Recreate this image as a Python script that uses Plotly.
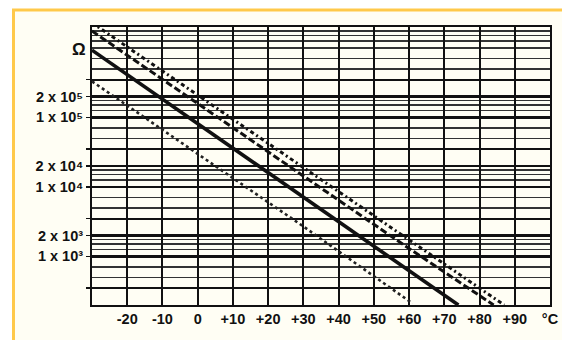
import plotly.graph_objects as go

# ---- data ----
temp_bottom = [-30, 0, 30, 61]
res_bottom = [3.3e5, 3.0e4, 2.7e3, 210]

temp_middle = [-30, 0, 30, 60, 74]
res_middle = [9.3e5, 8.1e4, 7.1e3, 620, 200]

temp_top_outer = [-30, 0, 30, 60, 87]
res_top_outer = [2.3e6, 2.1e5, 1.9e4, 1.76e3, 200]

temp_top_inner = [-30, 0, 30, 60, 84]
res_top_inner = [1.75e6, 1.6e5, 1.45e4, 1.3e3, 200]

x_tick_vals = [-20, -10, 0, 10, 20, 30, 40, 50, 60, 70, 80, 90, 100]
x_tick_text = ["-20", "-10", "0", "+10", "+20", "+30", "+40", "+50", "+60",
               "+70", "+80", "+90", "°C"]

y_label_vals = [1e3, 2e3, 1e4, 2e4, 1e5, 2e5]
y_label_text = ["1 x 10³", "2 x 10³", "1 x 10⁴", "2 x 10⁴", "1 x 10⁵", "2 x 10⁵"]
y_thick_vals = [3.5e2, 3.5e3, 3.5e4, 3.5e5]
y_minor_mult = [1.25, 1.5, 1.75, 5, 7]
y_decades = [1e2, 1e3, 1e4, 1e5, 1e6]

minor_vals = []
for d in y_decades:
    for m in y_minor_mult:
        v = m * d
        if 200 < v < 2e6:
            minor_vals.append(v)
minor_vals.append(1e6)

major_vals = y_label_vals + y_thick_vals
major_text = y_label_text + [""] * len(y_thick_vals)

fig = go.Figure()
fig.add_trace(go.Scatter(x=temp_bottom, y=res_bottom, mode="lines",
                         line=dict(color="#222", width=2.6, dash="3px,3px")))
fig.add_trace(go.Scatter(x=temp_middle, y=res_middle, mode="lines",
                         line=dict(color="#111", width=3.6)))
fig.add_trace(go.Scatter(x=temp_top_inner, y=res_top_inner, mode="lines",
                         line=dict(color="#111", width=3, dash="7px,3px")))
fig.add_trace(go.Scatter(x=temp_top_outer, y=res_top_outer, mode="lines",
                         line=dict(color="#111", width=3, dash="4px,3px,2px,3px")))

W, H = 562, 340
L, R, T, B = 92, 12, 27, 35
pw, ph = W - L - R, H - T - B

def px(xp):
    return (xp - L) / pw

def py(yp):
    return (H - B - yp) / ph

label_font = dict(family="Liberation Sans", size=14.5,
                  color="#111", weight="bold")

fig.update_layout(
    width=W, height=H,
    margin=dict(l=L, r=R, t=T, b=B, autoexpand=False),
    paper_bgcolor="white",
    plot_bgcolor="white",
    showlegend=False,
    hovermode=False,
    xaxis=dict(
        range=[-30, 100], automargin=False,
        tickvals=x_tick_vals, ticktext=x_tick_text,
        showgrid=True, gridcolor="#111", gridwidth=2,
        showline=True, linecolor="#111", linewidth=2, mirror=True,
        ticks="", tickfont=label_font, zeroline=False,
    ),
    yaxis=dict(
        type="log", automargin=False,
        range=[2.30103, 6.30103],
        tickvals=major_vals, ticktext=major_text,
        showgrid=True, gridcolor="#111", gridwidth=2.2,
        minor=dict(tickvals=minor_vals, showgrid=True, gridcolor="#333",
                   gridwidth=1.4, ticks=""),
        showline=True, linecolor="#111", linewidth=2, mirror=True,
        ticks="outside", ticklen=4, tickcolor="#111", tickwidth=1.5,
        tickfont=label_font, zeroline=False,
    ),
    shapes=[
        dict(type="rect", xref="paper", yref="paper",
             x0=px(14), x1=px(W), y0=py(H), y1=py(11),
             fillcolor="#FFFEF4", line=dict(width=0), layer="below"),
        dict(type="line", xref="paper", yref="paper",
             x0=px(12), x1=px(W), y0=py(10), y1=py(10),
             line=dict(color="#FFC94A", width=3)),
        dict(type="line", xref="paper", yref="paper",
             x0=px(13.5), x1=px(13.5), y0=py(9), y1=py(H),
             line=dict(color="#FFC94A", width=3)),
    ],
    annotations=[
        dict(text="Ω", xref="paper", yref="paper", x=px(70), y=py(38),
             showarrow=False, font=dict(family="Liberation Sans", size=17,
                                        color="#111", weight="bold")),
    ],
)

fig.write_html(
    "out.html",
    config={"displayModeBar": False, "staticPlot": True},
    post_script="document.body.style.margin='0';document.body.style.overflow='hidden';",
)
